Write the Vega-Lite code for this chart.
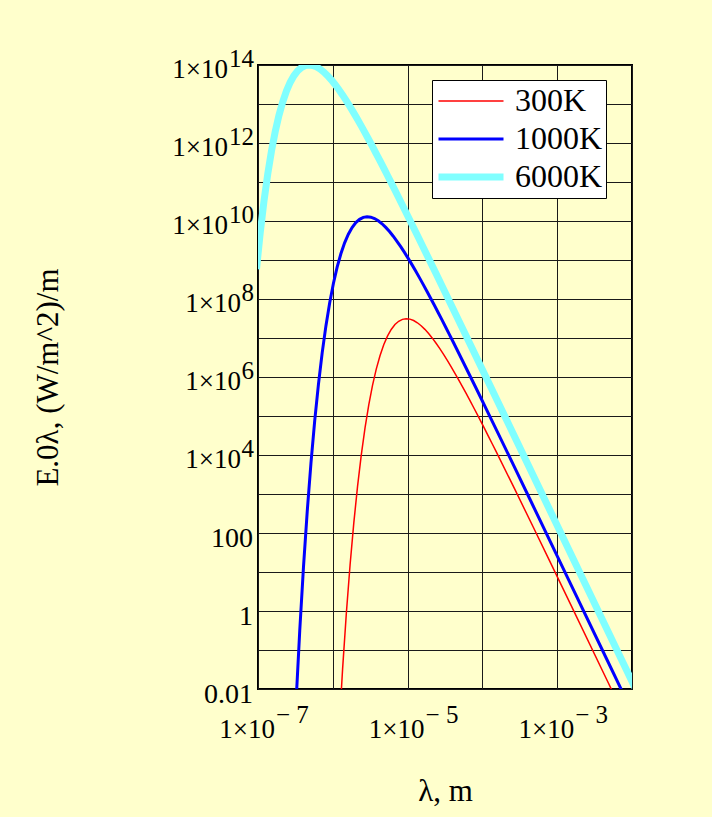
{
  "$schema": "https://vega.github.io/schema/vega-lite/v6.json",
  "width": 374,
  "height": 624,
  "autosize": {"type": "none"},
  "padding": {"left": 258, "top": 65, "right": 80, "bottom": 128},
  "background": "#FFFFCC",
  "config": {
    "view": {"stroke": "#000000", "strokeWidth": 2},
    "axisX": {
      "grid": true, "gridColor": "#1a1a1a", "gridWidth": 1, "gridOpacity": 1,
      "labels": false, "ticks": false, "domain": false,
      "titleFont": "Liberation Serif", "titleFontSize": 31, "titleFontWeight": "normal",
      "titleColor": "#000000", "titleBaseline": "alphabetic", "titlePadding": 111
    },
    "axisY": {
      "grid": true, "gridColor": "#1a1a1a", "gridWidth": 1, "gridOpacity": 1,
      "labels": false, "ticks": false, "domain": false,
      "titleFont": "Liberation Serif", "titleFontSize": 31, "titleFontWeight": "normal",
      "titleColor": "#000000", "titleBaseline": "alphabetic", "titleAlign": "center",
      "titleAngle": 270, "titleX": -201, "titleY": 312
    }
  },
  "datasets": {
    "curves": [
      {"lam": 9.5465e-8, "E": 5.82e8, "T": "6000K"},
      {"lam": 1.07114e-7, "E": 5.026e9, "T": "6000K"},
      {"lam": 1.20183e-7, "E": 3.226e10, "T": "6000K"},
      {"lam": 1.34848e-7, "E": 1.588e11, "T": "6000K"},
      {"lam": 1.51302e-7, "E": 6.177e11, "T": "6000K"},
      {"lam": 1.69763e-7, "E": 1.947e12, "T": "6000K"},
      {"lam": 1.90477e-7, "E": 5.087e12, "T": "6000K"},
      {"lam": 2.13719e-7, "E": 1.1246e13, "T": "6000K"},
      {"lam": 2.39797e-7, "E": 2.143e13, "T": "6000K"},
      {"lam": 2.69057e-7, "E": 3.575e13, "T": "6000K"},
      {"lam": 3.01888e-7, "E": 5.301e13, "T": "6000K"},
      {"lam": 3.38723e-7, "E": 7.075e13, "T": "6000K"},
      {"lam": 3.80052e-7, "E": 8.6e13, "T": "6000K"},
      {"lam": 4.26427e-7, "E": 9.623e13, "T": "6000K"},
      {"lam": 4.78457e-7, "E": 1.0005e14, "T": "6000K"},
      {"lam": 5.36839e-7, "E": 9.75e13, "T": "6000K"},
      {"lam": 6.02344e-7, "E": 8.976e13, "T": "6000K"},
      {"lam": 6.75839e-7, "E": 7.866e13, "T": "6000K"},
      {"lam": 7.58305e-7, "E": 6.596e13, "T": "6000K"},
      {"lam": 8.50833e-7, "E": 5.329e13, "T": "6000K"},
      {"lam": 9.54649e-7, "E": 4.166e13, "T": "6000K"},
      {"lam": 1.07114e-6, "E": 3.167e13, "T": "6000K"},
      {"lam": 1.20183e-6, "E": 2.349e13, "T": "6000K"},
      {"lam": 1.34848e-6, "E": 1.706e13, "T": "6000K"},
      {"lam": 1.51302e-6, "E": 1.2167e13, "T": "6000K"},
      {"lam": 1.69763e-6, "E": 8.545e12, "T": "6000K"},
      {"lam": 1.90477e-6, "E": 5.919e12, "T": "6000K"},
      {"lam": 2.13719e-6, "E": 4.052e12, "T": "6000K"},
      {"lam": 2.39797e-6, "E": 2.747e12, "T": "6000K"},
      {"lam": 2.69057e-6, "E": 1.845e12, "T": "6000K"},
      {"lam": 3.01888e-6, "E": 1.2303e12, "T": "6000K"},
      {"lam": 3.38723e-6, "E": 8.149e11, "T": "6000K"},
      {"lam": 3.80052e-6, "E": 5.366e11, "T": "6000K"},
      {"lam": 4.26427e-6, "E": 3.517e11, "T": "6000K"},
      {"lam": 4.78457e-6, "E": 2.294e11, "T": "6000K"},
      {"lam": 5.36839e-6, "E": 1.49e11, "T": "6000K"},
      {"lam": 6.02344e-6, "E": 9.652e10, "T": "6000K"},
      {"lam": 6.75839e-6, "E": 6.232e10, "T": "6000K"},
      {"lam": 7.58305e-6, "E": 4.013e10, "T": "6000K"},
      {"lam": 1.34848e-5, "E": 4.312e9, "T": "6000K"},
      {"lam": 2.39797e-5, "E": 4.487e8, "T": "6000K"},
      {"lam": 4.26427e-5, "E": 4.587e7, "T": "6000K"},
      {"lam": 7.58305e-5, "E": 4.645e6, "T": "6000K"},
      {"lam": 2.39797e-4, "E": 4.696e4, "T": "6000K"},
      {"lam": 7.58305e-4, "E": 471.2, "T": "6000K"},
      {"lam": 2.39797e-3, "E": 4.717, "T": "6000K"},
      {"lam": 7.58305e-3, "E": 0.04718, "T": "6000K"},
      {"lam": 1.20183e-2, "E": 0.007479, "T": "6000K"},

      {"lam": 3.22102e-7, "E": 0.004305, "T": "1000K"},
      {"lam": 3.61405e-7, "E": 0.3115, "T": "1000K"},
      {"lam": 4.05502e-7, "E": 13.29, "T": "1000K"},
      {"lam": 4.54981e-7, "E": 354.4, "T": "1000K"},
      {"lam": 5.10497e-7, "E": 6209, "T": "1000K"},
      {"lam": 5.72787e-7, "E": 7.482e4, "T": "1000K"},
      {"lam": 6.42679e-7, "E": 6.464e5, "T": "1000K"},
      {"lam": 7.21096e-7, "E": 4.148e6, "T": "1000K"},
      {"lam": 8.09084e-7, "E": 2.042e7, "T": "1000K"},
      {"lam": 9.07806e-7, "E": 7.943e7, "T": "1000K"},
      {"lam": 1.018576e-6, "E": 2.503e8, "T": "1000K"},
      {"lam": 1.142861e-6, "E": 6.542e8, "T": "1000K"},
      {"lam": 1.282312e-6, "E": 1.446e9, "T": "1000K"},
      {"lam": 1.438777e-6, "E": 2.755e9, "T": "1000K"},
      {"lam": 1.61434e-6, "E": 4.597e9, "T": "1000K"},
      {"lam": 1.81132e-6, "E": 6.817e9, "T": "1000K"},
      {"lam": 2.03233e-6, "E": 9.097e9, "T": "1000K"},
      {"lam": 2.28031e-6, "E": 1.106e10, "T": "1000K"},
      {"lam": 2.55855e-6, "E": 1.2375e10, "T": "1000K"},
      {"lam": 2.87073e-6, "E": 1.2865e10, "T": "1000K"},
      {"lam": 3.22102e-6, "E": 1.2535e10, "T": "1000K"},
      {"lam": 3.61405e-6, "E": 1.1542e10, "T": "1000K"},
      {"lam": 4.05502e-6, "E": 1.0114e10, "T": "1000K"},
      {"lam": 4.54981e-6, "E": 8.482e9, "T": "1000K"},
      {"lam": 5.10497e-6, "E": 6.852e9, "T": "1000K"},
      {"lam": 5.72787e-6, "E": 5.357e9, "T": "1000K"},
      {"lam": 6.42679e-6, "E": 4.072e9, "T": "1000K"},
      {"lam": 7.21096e-6, "E": 3.02e9, "T": "1000K"},
      {"lam": 8.09084e-6, "E": 2.193e9, "T": "1000K"},
      {"lam": 9.07806e-6, "E": 1.565e9, "T": "1000K"},
      {"lam": 1.018576e-5, "E": 1.0987e9, "T": "1000K"},
      {"lam": 1.142861e-5, "E": 7.609e8, "T": "1000K"},
      {"lam": 1.282312e-5, "E": 5.211e8, "T": "1000K"},
      {"lam": 1.438777e-5, "E": 3.532e8, "T": "1000K"},
      {"lam": 1.61434e-5, "E": 2.373e8, "T": "1000K"},
      {"lam": 1.81132e-5, "E": 1.582e8, "T": "1000K"},
      {"lam": 2.03233e-5, "E": 1.0479e8, "T": "1000K"},
      {"lam": 2.28031e-5, "E": 6.901e7, "T": "1000K"},
      {"lam": 2.55855e-5, "E": 4.522e7, "T": "1000K"},
      {"lam": 2.87073e-5, "E": 2.949e7, "T": "1000K"},
      {"lam": 3.22102e-5, "E": 1.916e7, "T": "1000K"},
      {"lam": 3.61405e-5, "E": 1.241e7, "T": "1000K"},
      {"lam": 4.05502e-5, "E": 8.013e6, "T": "1000K"},
      {"lam": 4.54981e-5, "E": 5.159e6, "T": "1000K"},
      {"lam": 8.09084e-5, "E": 5.546e5, "T": "1000K"},
      {"lam": 1.438777e-4, "E": 5.77e4, "T": "1000K"},
      {"lam": 2.55855e-4, "E": 5900, "T": "1000K"},
      {"lam": 4.54981e-4, "E": 597.3, "T": "1000K"},
      {"lam": 1.438777e-3, "E": 6.038, "T": "1000K"},
      {"lam": 4.54981e-3, "E": 0.06059, "T": "1000K"},
      {"lam": 1.438777e-2, "E": 0.0006066, "T": "1000K"},

      {"lam": 1.20468e-6, "E": 0.0007569, "T": "300K"},
      {"lam": 1.35167e-6, "E": 0.03231, "T": "300K"},
      {"lam": 1.5166e-6, "E": 0.8612, "T": "300K"},
      {"lam": 1.70165e-6, "E": 15.09, "T": "300K"},
      {"lam": 1.90929e-6, "E": 181.8, "T": "300K"},
      {"lam": 2.14226e-6, "E": 1570, "T": "300K"},
      {"lam": 2.40365e-6, "E": 1.0079e4, "T": "300K"},
      {"lam": 2.69694e-6, "E": 4.961e4, "T": "300K"},
      {"lam": 3.02602e-6, "E": 1.93e5, "T": "300K"},
      {"lam": 3.39526e-6, "E": 6.084e5, "T": "300K"},
      {"lam": 3.80954e-6, "E": 1.59e6, "T": "300K"},
      {"lam": 4.27437e-6, "E": 3.514e6, "T": "300K"},
      {"lam": 4.79592e-6, "E": 6.696e6, "T": "300K"},
      {"lam": 5.38112e-6, "E": 1.1171e7, "T": "300K"},
      {"lam": 6.03773e-6, "E": 1.656e7, "T": "300K"},
      {"lam": 6.77443e-6, "E": 2.211e7, "T": "300K"},
      {"lam": 7.601e-6, "E": 2.687e7, "T": "300K"},
      {"lam": 8.52849e-6, "E": 3.007e7, "T": "300K"},
      {"lam": 9.56911e-6, "E": 3.126e7, "T": "300K"},
      {"lam": 1.073672e-5, "E": 3.047e7, "T": "300K"},
      {"lam": 1.204682e-5, "E": 2.805e7, "T": "300K"},
      {"lam": 1.351673e-5, "E": 2.458e7, "T": "300K"},
      {"lam": 1.516604e-5, "E": 2.061e7, "T": "300K"},
      {"lam": 1.701655e-5, "E": 1.665e7, "T": "300K"},
      {"lam": 1.909289e-5, "E": 1.302e7, "T": "300K"},
      {"lam": 2.142261e-5, "E": 9.895e6, "T": "300K"},
      {"lam": 2.403653e-5, "E": 7.337e6, "T": "300K"},
      {"lam": 2.696942e-5, "E": 5.33e6, "T": "300K"},
      {"lam": 3.02602e-5, "E": 3.802e6, "T": "300K"},
      {"lam": 3.39526e-5, "E": 2.67e6, "T": "300K"},
      {"lam": 3.80954e-5, "E": 1.849e6, "T": "300K"},
      {"lam": 4.27437e-5, "E": 1.266e6, "T": "300K"},
      {"lam": 4.79592e-5, "E": 8.582e5, "T": "300K"},
      {"lam": 5.38112e-5, "E": 5.766e5, "T": "300K"},
      {"lam": 6.03773e-5, "E": 3.844e5, "T": "300K"},
      {"lam": 6.77443e-5, "E": 2.545e5, "T": "300K"},
      {"lam": 7.601e-5, "E": 1.677e5, "T": "300K"},
      {"lam": 8.52849e-5, "E": 1.0987e5, "T": "300K"},
      {"lam": 9.56911e-5, "E": 7.167e4, "T": "300K"},
      {"lam": 1.073672e-4, "E": 4.657e4, "T": "300K"},
      {"lam": 1.204682e-4, "E": 3.016e4, "T": "300K"},
      {"lam": 1.351673e-4, "E": 1.947e4, "T": "300K"},
      {"lam": 1.516604e-4, "E": 1.2535e4, "T": "300K"},
      {"lam": 2.696942e-4, "E": 1348, "T": "300K"},
      {"lam": 4.79592e-4, "E": 140.2, "T": "300K"},
      {"lam": 8.52849e-4, "E": 14.33, "T": "300K"},
      {"lam": 1.516604e-3, "E": 1.451, "T": "300K"},
      {"lam": 4.79592e-3, "E": 0.01467, "T": "300K"},
      {"lam": 1.516604e-2, "E": 0.0001472, "T": "300K"}
    ],
    "ylab": [
      {"v": 1e14, "b": "1×10", "e": "14"},
      {"v": 1e12, "b": "1×10", "e": "12"},
      {"v": 1e10, "b": "1×10", "e": "10"},
      {"v": 1e8, "b": "1×10", "e": "8"},
      {"v": 1e6, "b": "1×10", "e": "6"},
      {"v": 1e4, "b": "1×10", "e": "4"},
      {"v": 100, "b": "100", "e": ""},
      {"v": 1, "b": "1", "e": ""},
      {"v": 0.01, "b": "0.01", "e": ""}
    ],
    "xlab": [
      {"v": 1e-7, "b": "1×10", "e": "− 7"},
      {"v": 1e-5, "b": "1×10", "e": "− 5"},
      {"v": 1e-3, "b": "1×10", "e": "− 3"}
    ]
  },
  "encoding": {
    "x": {
      "type": "quantitative",
      "scale": {"type": "log", "domain": [1e-7, 0.01], "nice": false},
      "axis": {"title": "λ, m", "values": [1e-7, 1e-6, 1e-5, 1e-4, 1e-3, 1e-2]}
    },
    "y": {
      "type": "quantitative",
      "scale": {"type": "log", "domain": [0.01, 1e14], "nice": false},
      "axis": {
        "title": "E.0λ, (W/m^2)/m",
        "values": [0.01, 0.1, 1, 10, 100, 1000, 1e4, 1e5, 1e6, 1e7, 1e8, 1e9, 1e10, 1e11, 1e12, 1e13, 1e14]
      }
    }
  },
  "layer": [
    {
      "data": {"name": "curves"},
      "mark": {"type": "line", "clip": true},
      "encoding": {
        "x": {"field": "lam"},
        "y": {"field": "E"},
        "color": {
          "field": "T", "type": "nominal",
          "scale": {"domain": ["300K", "1000K", "6000K"], "range": ["#FF0000", "#0000FF", "#80FFFF"]},
          "legend": {
            "orient": "none", "legendX": 174, "legendY": 15, "title": null,
            "fillColor": "#FFFFFF", "strokeColor": "#000000", "padding": 3,
            "symbolType": "stroke", "symbolSize": 4225, "symbolOffset": 0,
            "labelFont": "Liberation Serif", "labelFontSize": 32, "labelColor": "#000000",
            "labelOffset": 8, "clipHeight": 36, "rowPadding": 2
          }
        },
        "strokeWidth": {
          "field": "T", "type": "nominal",
          "scale": {"type": "ordinal", "domain": ["300K", "1000K", "6000K"], "range": [1.5, 3, 7]},
          "legend": {
            "orient": "none", "legendX": 174, "legendY": 15, "title": null,
            "fillColor": "#FFFFFF", "strokeColor": "#000000", "padding": 3,
            "symbolType": "stroke", "symbolSize": 4225, "symbolOffset": 0,
            "labelFont": "Liberation Serif", "labelFontSize": 32, "labelColor": "#000000",
            "labelOffset": 8, "clipHeight": 36, "rowPadding": 2
          }
        }
      }
    },
    {
      "data": {"name": "ylab"},
      "transform": [{"filter": "datum.e != ''"}],
      "mark": {"type": "text", "font": "Liberation Serif", "color": "#000000", "align": "right", "baseline": "alphabetic", "dx": -4, "dy": 2, "fontSize": 25},
      "encoding": {
        "x": {"datum": 1e-7},
        "y": {"field": "v"},
        "text": {"field": "e"}
      }
    },
    {
      "data": {"name": "ylab"},
      "transform": [{"filter": "length(datum.e) == 2"}],
      "mark": {"type": "text", "font": "Liberation Serif", "color": "#000000", "align": "right", "baseline": "alphabetic", "dx": -30, "dy": 13, "fontSize": 27},
      "encoding": {
        "x": {"datum": 1e-7},
        "y": {"field": "v"},
        "text": {"field": "b"}
      }
    },
    {
      "data": {"name": "ylab"},
      "transform": [{"filter": "length(datum.e) == 1"}],
      "mark": {"type": "text", "font": "Liberation Serif", "color": "#000000", "align": "right", "baseline": "alphabetic", "dx": -17, "dy": 13, "fontSize": 27},
      "encoding": {
        "x": {"datum": 1e-7},
        "y": {"field": "v"},
        "text": {"field": "b"}
      }
    },
    {
      "data": {"name": "ylab"},
      "transform": [{"filter": "datum.e == ''"}],
      "mark": {"type": "text", "font": "Liberation Serif", "color": "#000000", "align": "right", "baseline": "alphabetic", "dx": -5, "dy": 14, "fontSize": 28},
      "encoding": {
        "x": {"datum": 1e-7},
        "y": {"field": "v"},
        "text": {"field": "b"}
      }
    },
    {
      "data": {"name": "xlab"},
      "mark": {"type": "text", "font": "Liberation Serif", "color": "#000000", "align": "right", "baseline": "alphabetic", "dx": 17, "dy": 49, "fontSize": 27},
      "encoding": {
        "x": {"field": "v"},
        "y": {"datum": 0.01},
        "text": {"field": "b"}
      }
    },
    {
      "data": {"name": "xlab"},
      "mark": {"type": "text", "font": "Liberation Serif", "color": "#000000", "align": "left", "baseline": "alphabetic", "dx": 18, "dy": 34, "fontSize": 25},
      "encoding": {
        "x": {"field": "v"},
        "y": {"datum": 0.01},
        "text": {"field": "e"}
      }
    }
  ]
}
